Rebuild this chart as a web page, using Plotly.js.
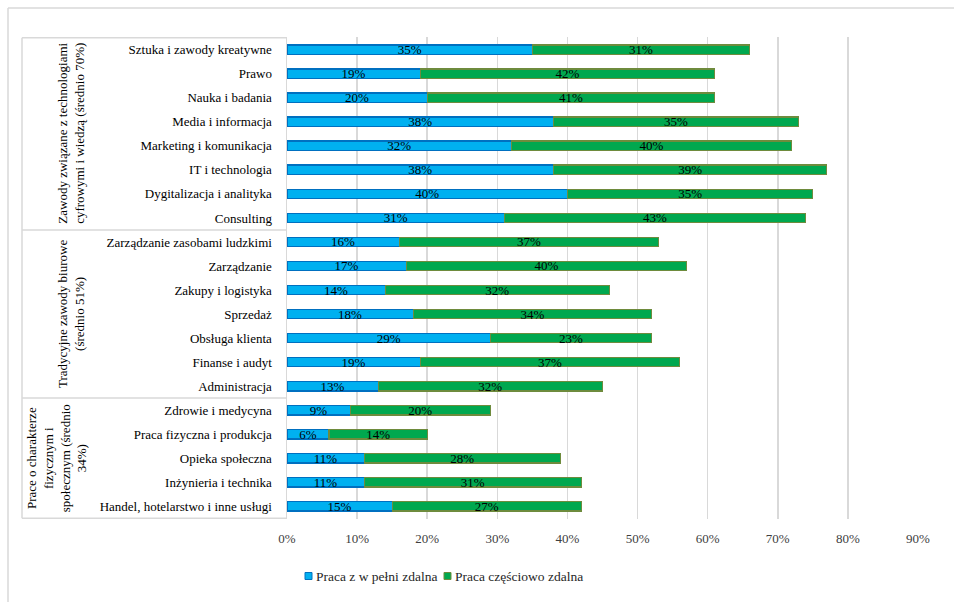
<!DOCTYPE html>
<html>
<head>
<meta charset="utf-8">
<script src="https://cdn.plot.ly/plotly-3.0.1.min.js"></script>
<style>
  html, body { margin: 0; padding: 0; background: #fff; }
  #chart { width: 955px; height: 603px; }
</style>
</head>
<body>
<div id="chart"></div>
<script>
// Occupations, top to bottom
const categories = [
  "Sztuka i zawody kreatywne",
  "Prawo",
  "Nauka i badania",
  "Media i informacja",
  "Marketing i komunikacja",
  "IT i technologia",
  "Dygitalizacja i analityka",
  "Consulting",
  "Zarządzanie zasobami ludzkimi",
  "Zarządzanie",
  "Zakupy i logistyka",
  "Sprzedaż",
  "Obsługa klienta",
  "Finanse i audyt",
  "Administracja",
  "Zdrowie i medycyna",
  "Praca fizyczna i produkcja",
  "Opieka społeczna",
  "Inżynieria i technika",
  "Handel, hotelarstwo i inne usługi"
];

// Share of offers (%)
const fullyRemote = [35, 19, 20, 38, 32, 38, 40, 31, 16, 17, 14, 18, 29, 19, 13, 9, 6, 11, 11, 15];
const partlyRemote = [31, 42, 41, 35, 40, 39, 35, 43, 37, 40, 32, 34, 23, 37, 32, 20, 14, 28, 31, 27];

const seriesNames = ["Praca z w pełni zdalna", "Praca częściowo zdalna"];

// Occupation groups: label and number of rows
const groupLabels = [
  "Zawody związane z technologiami<br>cyfrowymi i wiedzą (średnio 70%)",
  "Tradycyjne zawody biurowe<br>(średnio 51%)",
  "Prace o charakterze<br>fizycznym i<br>społecznym (średnio<br>34%)"
];
const groupSizes = [8, 7, 5];

const xTicks = [0, 10, 20, 30, 40, 50, 60, 70, 80, 90];

const FONT = "'Liberation Serif', 'Times New Roman', serif";

const W = 955, H = 603;
const M = { l: 287, r: 37, t: 37, b: 84 };
const plotW = W - M.l - M.r;
const plotH = H - M.t - M.b;
const px2paperX = px => (px - M.l) / plotW;
const px2paperY = py => (H - M.b - py) / plotH;

const labelFont = { family: FONT, size: 13, color: "#000" };

const seriesStyle = [
  { color: "#00B0F0", line: "#0070C0" },
  { color: "#00A84F", line: "#6E8B3D" }
];

const traces = [fullyRemote, partlyRemote].map((vals, i) => ({
  type: "bar", orientation: "h",
  name: seriesNames[i],
  y: categories, x: vals,
  text: vals.map(v => v + "%"),
  textposition: "inside", insidetextanchor: "middle",
  constraintext: "none", textangle: 0,
  insidetextfont: labelFont,
  marker: { color: seriesStyle[i].color, line: { color: seriesStyle[i].line, width: 1.2 } },
  width: 0.4,
  hoverinfo: "skip",
  showlegend: false
}));

// Group brackets on the left of the category labels
const lineStyle = { color: "#D9D9D9", width: 1.5 };
const bracketX0 = px2paperX(22);
const shapes = [];
const annotations = [];
let start = 0;
shapes.push({ type: "line", xref: "paper", yref: "y", x0: bracketX0, x1: 0, y0: -0.5, y1: -0.5, line: lineStyle });
const groupCentersPx = [71, 71, 57];
groupSizes.forEach((n, i) => {
  const end = start + n;
  shapes.push({ type: "line", xref: "paper", yref: "y", x0: bracketX0, x1: 0, y0: end - 0.5, y1: end - 0.5, line: lineStyle });
  annotations.push({
    xref: "paper", yref: "y",
    x: px2paperX(groupCentersPx[i]), y: start + (n - 1) / 2,
    text: groupLabels[i], showarrow: false, textangle: -90,
    xanchor: "center", yanchor: "middle", align: "center",
    font: { family: FONT, size: 13, color: "#000" }
  });
  start = end;
});
shapes.push({ type: "line", xref: "paper", yref: "y", x0: bracketX0, x1: bracketX0, y0: -0.5, y1: categories.length - 0.5, line: lineStyle });

// Chart frame (top and left edges)
const frame = { color: "#D9D9D9", width: 1.5 };
shapes.push({ type: "line", xref: "paper", yref: "paper", x0: px2paperX(8), x1: px2paperX(954), y0: px2paperY(8), y1: px2paperY(8), line: frame });
shapes.push({ type: "line", xref: "paper", yref: "paper", x0: px2paperX(8), x1: px2paperX(8), y0: px2paperY(8), y1: px2paperY(602), line: frame });

// Legend: small swatch followed by the series name
const legendY = 576;
const legendSwatchX = [305, 444];
seriesNames.forEach((name, i) => {
  const x0 = legendSwatchX[i];
  shapes.push({
    type: "rect", xref: "paper", yref: "paper",
    x0: px2paperX(x0), x1: px2paperX(x0 + 7),
    y0: px2paperY(legendY - 3.5), y1: px2paperY(legendY + 3.5),
    fillcolor: seriesStyle[i].color,
    line: { color: seriesStyle[i].line, width: 1 }
  });
  annotations.push({
    xref: "paper", yref: "paper",
    x: px2paperX(x0 + 8.5), y: px2paperY(legendY),
    xanchor: "left", yanchor: "middle",
    text: name, showarrow: false,
    font: { family: FONT, size: 13.5, color: "#262626" }
  });
});

const layout = {
  width: W, height: H,
  margin: M,
  barmode: "stack",
  paper_bgcolor: "#fff", plot_bgcolor: "#fff",
  font: { family: FONT, size: 13, color: "#000" },
  showlegend: false,
  xaxis: {
    range: [0, 90],
    tickvals: xTicks,
    ticktext: xTicks.map(v => v + "%"),
    showgrid: true, gridcolor: "#D9D9D9", gridwidth: 1.5,
    zeroline: false, showline: false,
    ticks: "", ticklabelstandoff: 10,
    tickfont: { family: FONT, size: 13, color: "#404040" },
    fixedrange: true
  },
  yaxis: {
    type: "category",
    categoryorder: "array", categoryarray: categories,
    autorange: "reversed",
    showgrid: false, zeroline: false,
    showline: true, linecolor: "#D9D9D9", linewidth: 1.5,
    ticks: "", ticklabelstandoff: 11,
    tickfont: { family: FONT, size: 13, color: "#000" },
    fixedrange: true
  },
  shapes: shapes,
  annotations: annotations
};

Plotly.newPlot("chart", traces, layout, { staticPlot: true, displayModeBar: false });
</script>
</body>
</html>
